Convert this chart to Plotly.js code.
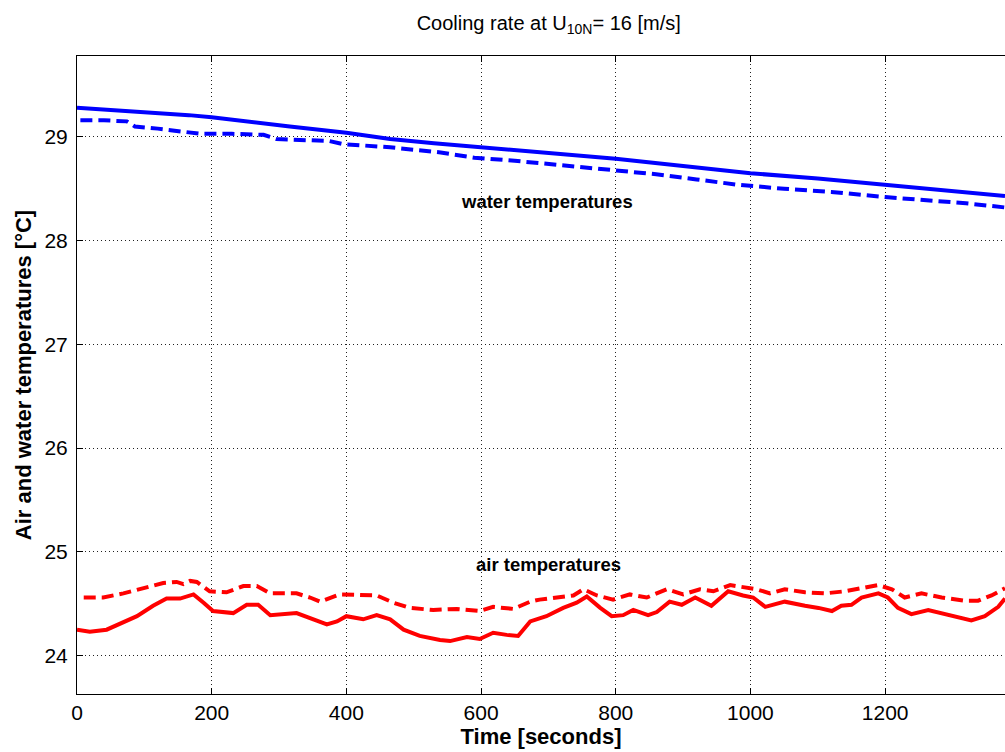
<!DOCTYPE html>
<html>
<head>
<meta charset="utf-8">
<script src="https://cdn.plot.ly/plotly-3.0.1.min.js"></script>
<style>
html,body{margin:0;padding:0;background:#fff;overflow:hidden;}
#chart{width:1005px;height:752px;}
</style>
</head>
<body>
<div id="chart"></div>
<script>
// Water temperatures (blue)
const waterSolidT = [0, 50, 100, 166, 200, 250, 316, 400, 465, 530, 600, 650, 717, 800, 900, 1000, 1100, 1200, 1300, 1378];
const waterSolidV = [29.28, 29.26, 29.24, 29.21, 29.19, 29.15, 29.10, 29.04, 28.98, 28.94, 28.90, 28.87, 28.84, 28.79, 28.72, 28.65, 28.60, 28.54, 28.48, 28.43];
const waterDashT = [5, 40, 74, 86, 120, 164, 183, 230, 277, 296, 340, 375, 396, 465, 540, 590, 650, 715, 800, 860, 920, 980, 1050, 1120, 1200, 1260, 1320, 1378];
const waterDashV = [29.16, 29.16, 29.15, 29.10, 29.08, 29.05, 29.03, 29.03, 29.02, 28.98, 28.97, 28.96, 28.93, 28.90, 28.85, 28.80, 28.77, 28.73, 28.68, 28.64, 28.59, 28.54, 28.50, 28.47, 28.42, 28.39, 28.36, 28.32];

// Air temperatures (red)
const airSolidT = [0, 19, 44, 64, 89, 113, 133, 153, 173, 188, 202, 232, 252, 269, 287, 326, 351, 371, 386, 400, 425, 445, 465, 485, 509, 539, 554, 579, 598, 618, 638, 655, 673, 697, 722, 742, 757, 777, 794, 811, 826, 848, 861, 880, 898, 918, 942, 967, 989, 1004, 1022, 1051, 1081, 1101, 1121, 1135, 1150, 1165, 1190, 1204, 1219, 1239, 1264, 1299, 1328, 1348, 1368, 1378];
const airSolidV = [24.25, 24.23, 24.25, 24.31, 24.38, 24.48, 24.55, 24.55, 24.59, 24.51, 24.43, 24.41, 24.49, 24.49, 24.39, 24.41, 24.35, 24.30, 24.33, 24.38, 24.35, 24.39, 24.35, 24.25, 24.19, 24.15, 24.14, 24.18, 24.16, 24.22, 24.20, 24.19, 24.33, 24.38, 24.46, 24.51, 24.57, 24.46, 24.38, 24.39, 24.44, 24.39, 24.42, 24.52, 24.49, 24.56, 24.48, 24.62, 24.58, 24.56, 24.47, 24.52, 24.48, 24.46, 24.43, 24.48, 24.49, 24.56, 24.60, 24.56, 24.46, 24.40, 24.44, 24.38, 24.34, 24.38, 24.47, 24.55];
const airDashT = [10, 39, 69, 98, 128, 148, 158, 168, 178, 197, 222, 247, 267, 287, 326, 346, 361, 390, 420, 445, 470, 494, 529, 564, 598, 618, 648, 673, 687, 712, 737, 752, 772, 796, 821, 846, 876, 900, 925, 945, 970, 989, 1009, 1029, 1051, 1081, 1111, 1140, 1170, 1190, 1210, 1229, 1254, 1284, 1318, 1338, 1358, 1378];
const airDashV = [24.56, 24.56, 24.60, 24.65, 24.70, 24.71, 24.69, 24.72, 24.71, 24.62, 24.61, 24.67, 24.67, 24.60, 24.60, 24.56, 24.52, 24.59, 24.58, 24.58, 24.51, 24.46, 24.44, 24.45, 24.43, 24.47, 24.45, 24.52, 24.54, 24.56, 24.58, 24.64, 24.58, 24.54, 24.59, 24.56, 24.64, 24.59, 24.64, 24.62, 24.68, 24.66, 24.64, 24.60, 24.64, 24.61, 24.60, 24.62, 24.66, 24.68, 24.64, 24.56, 24.60, 24.56, 24.53, 24.53, 24.58, 24.65];

const xTicks = [0, 200, 400, 600, 800, 1000, 1200];
const yTicks = [24, 25, 26, 27, 28, 29];

const blue = '#0000ff';
const red = '#ff0000';
const dashPat = '12px,6px';

const traces = [
  {x: waterSolidT, y: waterSolidV, mode: 'lines', line: {color: blue, width: 4}, name: 'water solid'},
  {x: waterDashT, y: waterDashV, mode: 'lines', line: {color: blue, width: 4, dash: dashPat}, name: 'water dashed'},
  {x: airSolidT, y: airSolidV, mode: 'lines', line: {color: red, width: 4}, name: 'air solid'},
  {x: airDashT, y: airDashV, mode: 'lines', line: {color: red, width: 4, dash: dashPat}, name: 'air dashed'}
];

const font = 'Liberation Sans, Arial, Helvetica, sans-serif';

const layout = {
  width: 1005, height: 752,
  margin: {l: 77, r: 0, t: 56, b: 58},
  paper_bgcolor: '#ffffff', plot_bgcolor: '#ffffff',
  showlegend: false,
  font: {family: font, color: '#000'},
  title: {
    text: 'Cooling rate at U<sub>10N</sub>= 16 [m/s]',
    font: {family: font, size: 20, color: '#000'},
    x: 0.546, xanchor: 'center', xref: 'container',
    y: 0.970, yanchor: 'middle', yref: 'container'
  },
  xaxis: {
    range: [0, 1378],
    tickvals: xTicks,
    ticktext: xTicks.map(String),
    ticks: 'inside', ticklen: 6, tickcolor: '#000',
    showline: true, linecolor: '#000', linewidth: 1, mirror: 'ticks',
    showgrid: true, gridcolor: '#222', griddash: '1px,3px', gridwidth: 1,
    zeroline: false,
    tickfont: {family: font, size: 21, color: '#000'},
    title: {text: '<b>Time [seconds]</b>', font: {family: font, size: 22, color: '#000'}, standoff: 2}
  },
  yaxis: {
    range: [23.63, 29.78],
    tickvals: yTicks,
    ticktext: yTicks.map(String),
    ticks: 'inside', ticklen: 6, tickcolor: '#000',
    showline: true, linecolor: '#000', linewidth: 1, mirror: false,
    showgrid: true, gridcolor: '#222', griddash: '1px,3px', gridwidth: 1,
    zeroline: false,
    ticklabelstandoff: 4,
    tickfont: {family: font, size: 21, color: '#000'},
    title: {text: '<b>Air and water temperatures [°C]</b>', font: {family: font, size: 22, color: '#000'}, standoff: 6}
  },
  annotations: [
    {x: 698, y: 28.38, xref: 'x', yref: 'y', text: '<b>water temperatures</b>', showarrow: false,
     font: {family: font, size: 18.5, color: '#000'}, xanchor: 'center', yanchor: 'middle'},
    {x: 700, y: 24.88, xref: 'x', yref: 'y', text: '<b>air temperatures</b>', showarrow: false,
     font: {family: font, size: 18.5, color: '#000'}, xanchor: 'center', yanchor: 'middle'}
  ]
};

Plotly.newPlot('chart', traces, layout, {displayModeBar: false, staticPlot: true});
</script>
</body>
</html>
